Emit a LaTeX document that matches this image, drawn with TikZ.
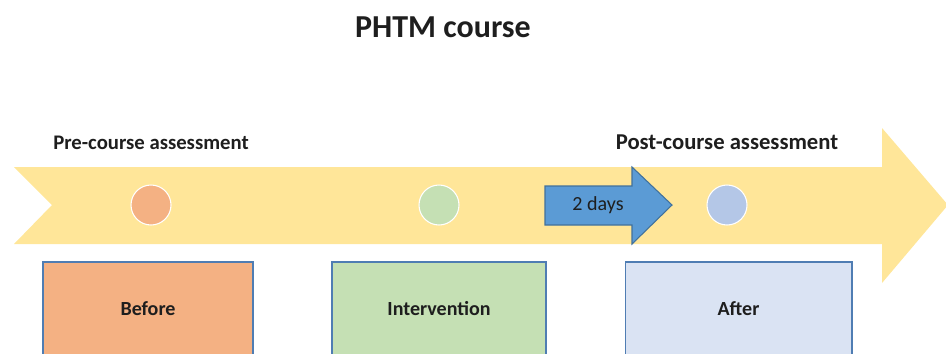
\documentclass[tikz,border=0pt]{standalone}
\usepackage{fontspec}
\setmainfont{Carlito}
\usetikzlibrary{positioning}

\definecolor{band}{HTML}{FFE699}
\definecolor{daysfill}{HTML}{5B9BD5}
\definecolor{daysline}{HTML}{41719C}
\definecolor{boxline}{HTML}{4F7DB3}
\definecolor{prefill}{HTML}{F4B183}
\definecolor{midfill}{HTML}{C5E0B4}
\definecolor{postfill}{HTML}{DAE3F3}
\definecolor{postdot}{HTML}{B4C7E7}
\definecolor{ink}{HTML}{1E1E1E}

\begin{document}
\begin{tikzpicture}[x=0.02cm, y=-0.02cm, text=ink,
  dot/.style={circle, draw=white, line width=0.6pt, minimum size=0.8cm, inner sep=0pt},
  stage/.style={draw=boxline, line width=0.6pt, minimum height=1.88cm, font=\fontsize{11.4}{13}\selectfont\bfseries},
  phase/.style={font=\fontsize{11.8}{14}\selectfont\bfseries}]
  \useasboundingbox (0,0) rectangle (946,353);

  % timeline band
  \fill[band] (14,167) -- (882,167) -- (882,128) -- (948,205) -- (882,283)
    -- (882,244) -- (14,244) -- (52,205) -- cycle;

  \node[font=\fontsize{18.2}{21}\selectfont\bfseries] (title) at (443,27) {PHTM course};

  \node[dot, fill=prefill] (pre) at (151,205) {};
  \node[dot, fill=midfill] (mid) at (439,205) {};
  \node[dot, fill=postdot] (post) at (727,205) {};

  \node[phase, above=0.58cm of pre] (prelabel) {Pre-course assessment};
  \node[phase, font=\fontsize{12.9}{15}\selectfont\bfseries, above=0.58cm of post] (postlabel) {Post-course assessment};

  % gap before the post-course assessment
  \filldraw[fill=daysfill, draw=daysline, line width=0.6pt] (545,186) -- (632,186) -- (632,167)
    -- (672,205) -- (632,244) -- (632,225) -- (545,225) -- cycle;
  \node[font=\fontsize{11.4}{13}\selectfont] (days) at (598,205) {2 days};

  \node[stage, fill=prefill, minimum width=4.2cm] (before) at (148,309) {Before};
  \node[stage, fill=midfill, minimum width=4.28cm] (interv) at (439,309) {Intervention};
  \node[stage, fill=postfill, minimum width=4.54cm] (after) at (738.5,309) {After};
\end{tikzpicture}
\end{document}
